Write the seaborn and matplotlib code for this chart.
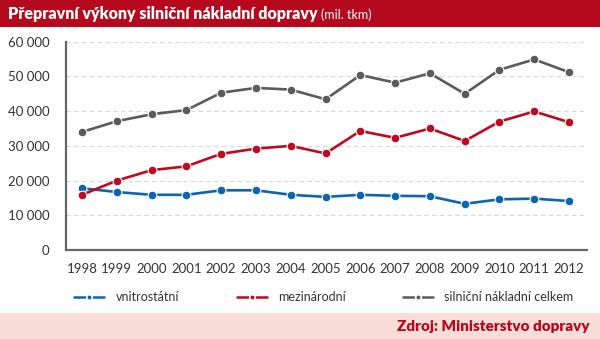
import numpy as np
import pandas as pd
import matplotlib
matplotlib.use('Agg')
import matplotlib.pyplot as plt
from matplotlib.patches import Rectangle
import seaborn as sns

# data (mil. tkm)
years = list(range(1998, 2013))
vnitrostatni = [17800, 16700, 15900, 15900, 17200, 17200, 15900, 15300, 15900, 15600, 15500, 13300, 14600, 14800, 14100]
mezinarodni = [15900, 20000, 23000, 24100, 27700, 29200, 30000, 27800, 34300, 32300, 35000, 31400, 37000, 39900, 36800]
celkem = [34000, 37100, 39100, 40300, 45300, 46700, 46200, 43400, 50400, 48200, 50900, 45000, 51900, 54900, 51200]

series_names = ['vnitrostátní', 'mezinárodní', 'silniční nákladní celkem']
colors = ['#0b65b0', '#c1081f', '#5b5b5b']
red_bar = '#b5091d'

df = pd.DataFrame({'rok': years * 3,
                   'hodnota': vnitrostatni + mezinarodni + celkem,
                   'rada': sum([[n] * len(years) for n in series_names], [])})
df['pos'] = df['rok'] - years[0]

sns.set_theme(style='white')
plt.rcParams['font.family'] = ['Lato', 'DejaVu Sans']

fig = plt.figure(figsize=(6, 3.39), dpi=100)
ax = fig.add_axes([0.11, 0.2625, 0.868, 0.6145])

sns.lineplot(data=df, x='pos', y='hodnota', hue='rada', hue_order=series_names,
             palette=colors, marker='o', markersize=6.3, markeredgecolor='white',
             markeredgewidth=0.8, linewidth=1.9, ax=ax, legend=False)

ax.set_xlim(-0.46, 14.51)
ax.set_ylim(0, 60000)
ax.set_xticks(range(len(years)))
ax.set_xticklabels([str(y) for y in years])
yt = np.arange(0, 60001, 10000)
ax.set_yticks(yt)
ax.set_yticklabels(['{:,}'.format(v).replace(',', ' ') for v in yt])
ax.tick_params(axis='both', labelsize=9.5, colors='#333333', length=0)
ax.tick_params(axis='x', pad=9)
ax.tick_params(axis='y', pad=12)
ax.set_xlabel('')
ax.set_ylabel('')
ax.yaxis.grid(True, linestyle=(0, (4, 3)), color='#d8d8d8', linewidth=0.8)
for s in ['top', 'right']:
    ax.spines[s].set_visible(False)
for s in ['left', 'bottom']:
    ax.spines[s].set_color('#666666')
    ax.spines[s].set_linewidth(1.6)

# legend
handles = [plt.Line2D([], [], color=c, linewidth=1.8, marker='o', markersize=4,
                      markeredgecolor='white', markeredgewidth=1.2) for c in colors]
fig.legend(handles, series_names, loc='center left', bbox_to_anchor=(0.105, 0.123),
           ncol=3, frameon=False, fontsize=9, handlelength=2.4, handletextpad=0.9,
           columnspacing=4.6, labelcolor='#333333')

# title bar
fig.patches.append(Rectangle((0, 0.92), 1, 0.08, transform=fig.transFigure,
                             facecolor=red_bar, edgecolor='none', zorder=0))
t = fig.text(0.013, 0.959, 'Přepravní výkony silniční nákladní dopravy', color='white',
             fontsize=11.5, fontweight='heavy', va='center', ha='left')
fig.canvas.draw()
bb = t.get_window_extent().transformed(fig.transFigure.inverted())
fig.text(bb.x1 + 0.006, 0.956, '(mil. tkm)', color='white', fontsize=9,
         va='center', ha='left')

# footer
fig.patches.append(Rectangle((0, 0), 1, 0.077, transform=fig.transFigure,
                             facecolor='#f9ddd8', edgecolor='none', zorder=0))
fig.text(0.983, 0.036, 'Zdroj: Ministerstvo dopravy', color=red_bar, fontsize=11,
         fontweight='heavy', va='center', ha='right')

fig.savefig('out.png', dpi=100)
